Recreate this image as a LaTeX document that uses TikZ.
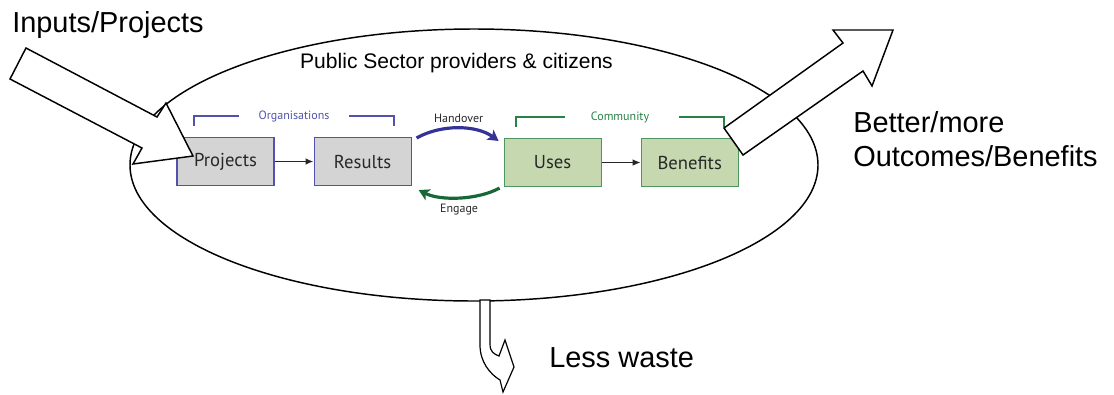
\documentclass[tikz,border=0pt]{standalone}
\usepackage{fontspec}
\setmainfont{Liberation Sans}
\newfontfamily\myriad{PT Sans}
\usetikzlibrary{arrows.meta, positioning, calc, shapes}
\definecolor{orgblue}{RGB}{82,82,172}
\definecolor{handblue}{RGB}{52,52,152}
\definecolor{comgreen}{RGB}{40,130,70}
\definecolor{engreen}{RGB}{22,105,55}
\definecolor{boxgrey}{RGB}{212,212,212}
\definecolor{boxgreen}{RGB}{198,216,176}
\definecolor{comborder}{RGB}{78,150,95}
\definecolor{boxtext}{RGB}{40,40,40}

\tikzset{
  orgbox/.style={draw=orgblue, fill=boxgrey, line width=0.8pt, minimum width=72.75pt, minimum height=36pt, inner sep=0pt, font=\myriad\fontsize{14}{16}\selectfont, text=boxtext},
  combox/.style={orgbox, draw=comborder, fill=boxgreen},
  flow/.style={-{Latex[length=6pt,width=5pt]}, line width=1.2pt, black!85},
  swap/.style={line width=2.4pt, -{Stealth[length=8pt,width=9pt,inset=2pt]}},
  bigarrow/.style={draw, fill=white, line width=1.1pt, line join=miter},
  bigtext/.style={font=\fontsize{21.7}{25.5}\selectfont, inner sep=0pt},
  smalltext/.style={font=\myriad\fontsize{9}{10}\selectfont},
}

\begin{document}
\begin{tikzpicture}[x=0.75pt, y=-0.75pt]
    \useasboundingbox (0,0) rectangle (1114,394);
    \draw[line width=1.1pt] (474,165) ellipse [x radius=258pt, y radius=102pt];
    \node[font=\fontsize{15.8}{18}\selectfont, inner sep=0pt, anchor=base] (ps) at (456.5,68) {Public Sector providers \& citizens};
    % the four boxes
    \node[orgbox] (P) at (225.5,161.5) {Projects};
    \node[orgbox, right=29.25pt of P] (R) {Results};
    \node[combox, right=69pt of R, yshift=-0.75pt] (U) {Uses};
    \node[combox, right=29.25pt of U] (B) {Benefits};
    \draw[flow] (P) -- (R);
    \draw[flow] (U) -- (B);
    % brackets
    \node[smalltext, text=orgblue] (org) at (294,116) {Organisations};
    \draw[orgblue, line width=0.8pt] (194,126) |- (239,116);
    \draw[orgblue, line width=0.8pt] (349,116) -| (394,126);
    \node[smalltext, text=comgreen] (com) at (620,117) {Community};
    \draw[comgreen, line width=0.8pt] (516,127) |- (565,117);
    \draw[comgreen, line width=0.8pt] (679,117) -| (724,127);
    % handover and engage
    \draw[swap, handblue] ([shift={(5,1)}]R.north east) .. controls +(25,-14) and +(-22,-16) .. ([shift={(-5,3)}]U.north west)
      node[midway, above, smalltext, text=boxtext] (ho) {Handover};
    \draw[swap, engreen] ([shift={(-4,1)}]U.south west) .. controls +(-22,12) and +(22,11) .. ([shift={(7,4)}]R.south east)
      node[midway, below, smalltext, text=boxtext] (en) {Engage};
    % block arrows
    \draw[bigarrow] (10,79) -- (26,48) -- (157,117) -- (166,103) -- (193,156) -- (133,164) -- (142,148) -- cycle;
    \draw[bigarrow] (743,155) -- (724,128) -- (843,43) -- (833,30) -- (893,30) -- (872,86) -- (863,71) -- cycle;
    \draw[bigarrow, line width=0.9pt] (480,300) -- (480,345) .. controls (480,362) and (490,374) .. (500,380) -- (503,392) -- (514,367) -- (505,340) -- (499,356) .. controls (494,354) and (490,352) .. (490,344) -- (490,300) -- cycle;
    % outer labels
    \node[bigtext, anchor=base west] (inp) at (12,32) {Inputs/Projects};
    \node[bigtext, anchor=north west, align=left] (outc) at (853,111) {Better/more\\Outcomes/Benefits};
    \node[bigtext, anchor=base west] (lw) at (549,367) {Less waste};
\end{tikzpicture}
\end{document}
